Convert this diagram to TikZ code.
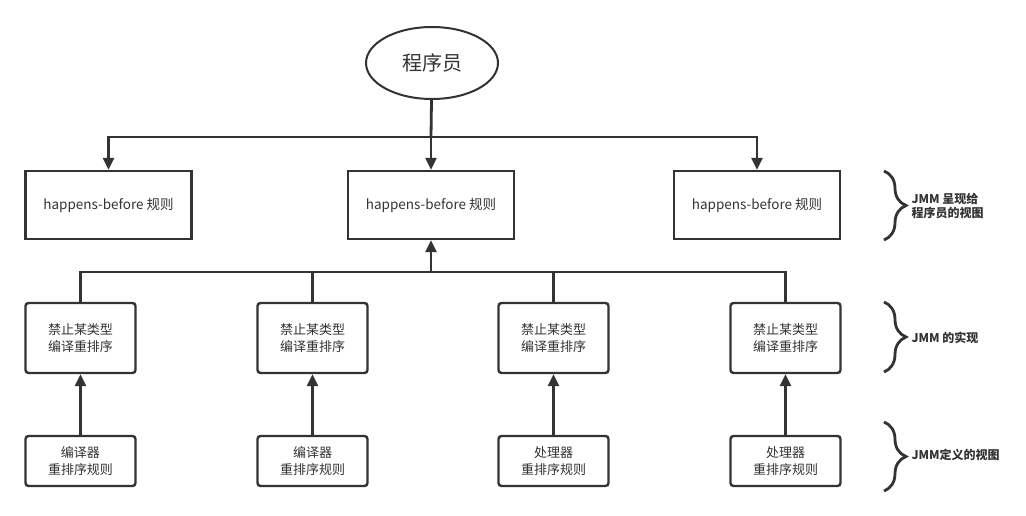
\documentclass[tikz,border=0pt]{standalone}
\usepackage{fontspec}
\setmainfont{Noto Sans CJK SC}
\usetikzlibrary{arrows.meta,positioning,shapes.geometric,decorations.pathreplacing}
\definecolor{ink}{HTML}{333333}

\begin{document}
\begin{tikzpicture}[
  x=1pt, y=-1pt,
  hbbox/.style={draw=ink, line width=2.4pt, minimum width=166pt, minimum height=68pt, font=\fontsize{13.5}{16}\selectfont, text=ink},
  rulebox/.style={draw=ink, line width=2.4pt, rounded corners=3pt, align=center, minimum width=110pt, font=\fontsize{13}{17}\selectfont, text=ink},
  arr/.style={-{Triangle[length=12pt,width=11pt]}, line width=2.8pt, draw=ink},
  link/.style={line width=2.8pt, draw=ink},
  brc/.style={decorate, decoration={brace, amplitude=22pt}, line width=2.8pt, draw=ink},
  tag/.style={anchor=west, align=left, font=\bfseries\fontsize{12}{14}\selectfont, text=ink}
]
\fill[white] (0,0) rectangle (1026,516);

\node[ellipse, draw=ink, line width=2pt, minimum width=132pt, minimum height=72pt, font=\fontsize{20}{24}\selectfont, text=ink] (prog) at (432,63) {程序员};

\node[hbbox] (hb1) at (108.5,205) {happens-before 规则};
\node[hbbox] (hb2) at (431,205) {happens-before 规则};
\node[hbbox] (hb3) at (757,205) {happens-before 规则};

\node[rulebox, minimum height=70pt] (m1) at (80.5,338) {禁止某类型\\编译重排序};
\node[rulebox, minimum height=70pt] (m2) at (312.5,338) {禁止某类型\\编译重排序};
\node[rulebox, minimum height=70pt] (m3) at (553.5,338) {禁止某类型\\编译重排序};
\node[rulebox, minimum height=70pt] (m4) at (785.5,338) {禁止某类型\\编译重排序};

\node[rulebox, minimum height=50pt] (c1) at (80.5,461) {编译器\\重排序规则};
\node[rulebox, minimum height=50pt] (c2) at (312.5,461) {编译器\\重排序规则};
\node[rulebox, minimum height=50pt] (c3) at (553.5,461) {处理器\\重排序规则};
\node[rulebox, minimum height=50pt] (c4) at (785.5,461) {处理器\\重排序规则};

\coordinate (fork) at (431,137);
\coordinate (join) at (431,272);

\draw[link] (prog) -- (fork);
\draw[arr] (fork) -| (hb1);
\draw[arr] (fork) -- (hb2);
\draw[arr] (fork) -| (hb3);

\draw[link] (m1) |- (join);
\draw[link] (m2) |- (join);
\draw[link] (m3) |- (join);
\draw[link] (m4) |- (join);
\draw[arr] (join) -- (hb2);

\draw[arr] (c1) -- (m1);
\draw[arr] (c2) -- (m2);
\draw[arr] (c3) -- (m3);
\draw[arr] (c4) -- (m4);

% braces and level names on the right
\draw[brc] (884,171) -- (884,240);
\draw[brc] (884,302) -- (884,372);
\draw[brc] (884,422) -- (884,491);
\node[tag] (t1) at (908,206) {JMM 呈现给\\程序员的视图};
\node[tag] (t2) at (908,338) {JMM 的实现};
\node[tag] (t3) at (908,455) {JMM定义的视图};
\end{tikzpicture}
\end{document}
